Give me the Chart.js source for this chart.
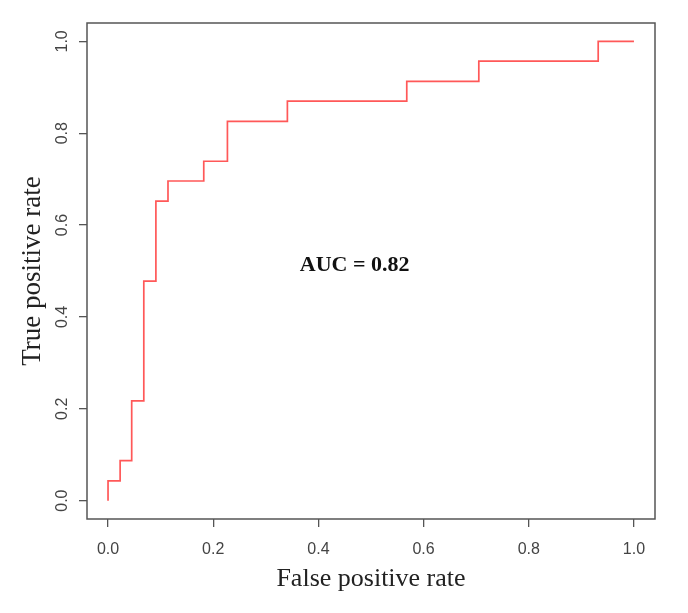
<!DOCTYPE html>
<html>
<head>
<meta charset="utf-8">
<script src="https://cdn.jsdelivr.net/npm/chart.js@4/dist/chart.umd.min.js"></script>
<style>
  html, body { margin: 0; padding: 0; background: #fff; }
  #wrap { width: 688px; height: 613px; }
</style>
</head>
<body>
<div id="wrap"><canvas id="chart" width="688" height="613"></canvas></div>
<script>
// ROC curve points (corner at the top of each vertical step)
const fpr = [0, 0, 0.023, 0.045, 0.068, 0.091, 0.114, 0.182, 0.227, 0.341, 0.568, 0.705, 0.932, 1];
const tpr = [0, 0.043, 0.087, 0.217, 0.478, 0.652, 0.696, 0.739, 0.826, 0.870, 0.913, 0.957, 1, 1];
const tickVals = [0, 0.2, 0.4, 0.6, 0.8, 1.0];
const aucText = "AUC = 0.82";
const aucPos = { x: 0.469, y: 0.513 };

const frameColor = "#555";
const tickFont = { family: "'Liberation Sans Narrow', 'Liberation Sans', Arial, sans-serif", size: 16 };
const titleFont = { family: "'Liberation Serif', 'Times New Roman', serif", size: 26 };

// box around the plot, like R's box()
const frame = {
    id: "frame",
    afterDraw(chart) {
        const a = chart.chartArea, ctx = chart.ctx;
        ctx.save();
        ctx.strokeStyle = frameColor;
        ctx.lineWidth = 1.5;
        ctx.strokeRect(a.left, a.top, a.right - a.left, a.bottom - a.top);
        ctx.restore();
    }
};

const aucLabel = {
    id: "aucLabel",
    afterDatasetsDraw(chart) {
        const ctx = chart.ctx;
        const x = chart.scales.x.getPixelForValue(aucPos.x);
        const y = chart.scales.y.getPixelForValue(aucPos.y);
        ctx.save();
        ctx.font = "bold 22px 'Liberation Serif', 'Times New Roman', serif";
        ctx.fillStyle = "#111";
        ctx.textAlign = "center";
        ctx.textBaseline = "middle";
        ctx.fillText(aucText, x, y);
        ctx.restore();
    }
};

const setTicks = s => { s.ticks = tickVals.map(v => ({ value: v })); };

new Chart(document.getElementById("chart").getContext("2d"), {
    type: "line",
    data: {
        datasets: [{
            data: fpr.map((v, i) => ({ x: v, y: tpr[i] })),
            borderColor: "rgba(255, 70, 70, 0.9)",
            borderWidth: 1.7,
            pointRadius: 0,
            stepped: true,
            fill: false
        }]
    },
    options: {
        responsive: false,
        animation: false,
        layout: { padding: { top: 23, right: 33, left: 0, bottom: 0 } },
        plugins: { legend: { display: false }, tooltip: { enabled: false } },
        scales: {
            x: {
                type: "linear",
                min: -0.04,
                max: 1.04,
                afterBuildTicks: setTicks,
                afterFit: s => { s.height = 94; },
                border: { display: false },
                grid: { drawOnChartArea: false, drawTicks: true, tickLength: 8, color: frameColor, lineWidth: 1.3 },
                ticks: { font: tickFont, color: "#444", padding: 13, maxRotation: 0, callback: v => v.toFixed(1) },
                title: { display: true, text: "False positive rate", font: titleFont, color: "#222", padding: { top: 0, bottom: 18 } }
            },
            y: {
                type: "linear",
                min: -0.04,
                max: 1.04,
                afterBuildTicks: setTicks,
                afterFit: s => { s.width = 87; },
                border: { display: false },
                grid: { drawOnChartArea: false, drawTicks: true, tickLength: 8, color: frameColor, lineWidth: 1.3 },
                ticks: { font: tickFont, color: "#444", padding: 5, minRotation: 90, maxRotation: 90, crossAlign: "center", callback: v => v.toFixed(1) },
                title: { display: true, text: "True positive rate", font: { family: titleFont.family, size: 27 }, color: "#222", padding: { top: 17, bottom: 0 } }
            }
        }
    },
    plugins: [frame, aucLabel]
});
</script>
</body>
</html>
